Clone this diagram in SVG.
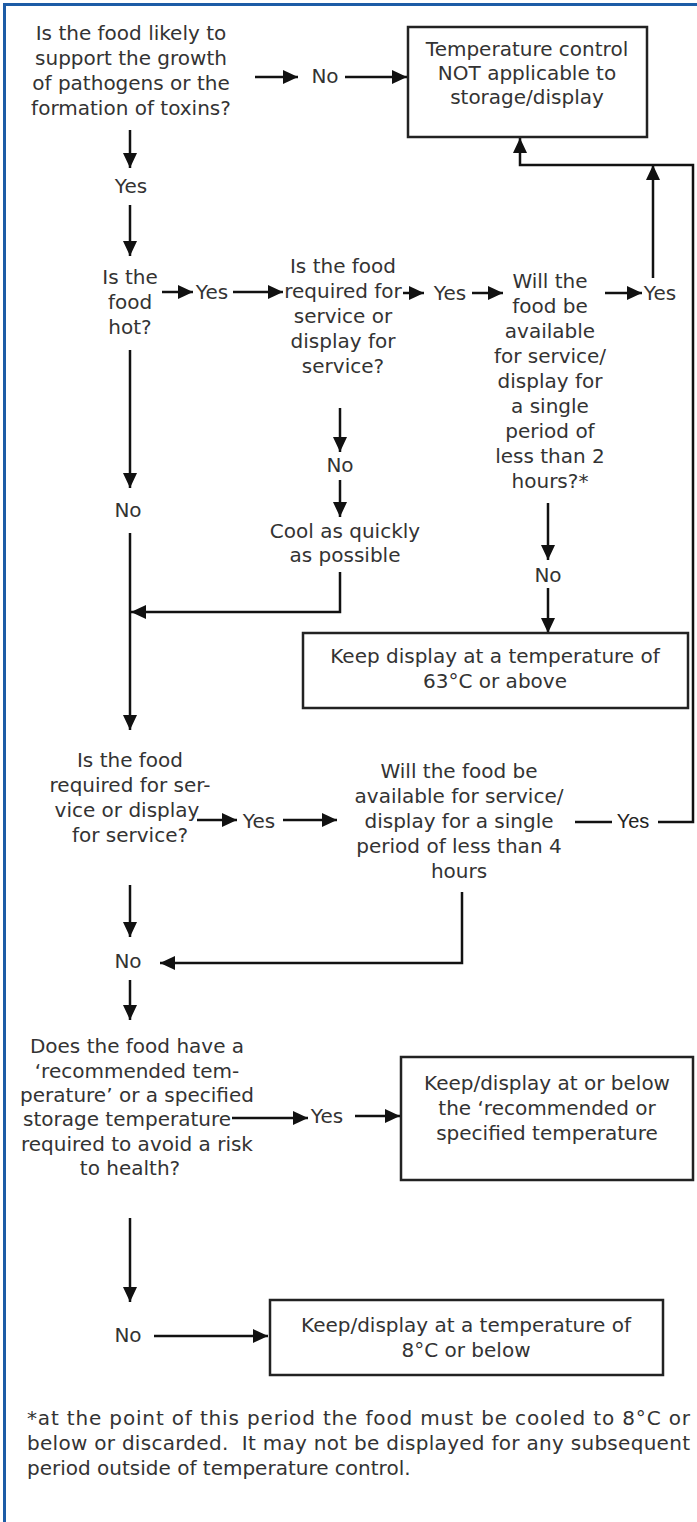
<svg xmlns="http://www.w3.org/2000/svg" width="697" height="1522" viewBox="0 0 697 1522">
<style>
.t{font-family:"DejaVu Sans",sans-serif;font-size:20px;fill:#333;text-anchor:middle}
.fn{font-family:"DejaVu Sans",sans-serif;font-size:20px;fill:#333}
.ar{font-family:"Liberation Sans",Arial,sans-serif;font-size:20px;fill:#222;text-anchor:middle}
.box{fill:none;stroke:#222;stroke-width:2.5}
.c{fill:none;stroke:#111;stroke-width:2.5}
.a{marker-end:url(#ah)}
</style>
<defs>
<marker id="ah" markerWidth="16" markerHeight="14" refX="15" refY="7" orient="auto" markerUnits="userSpaceOnUse">
<path d="M0,0 L15,7 L0,14 z" fill="#111"/>
</marker>
</defs>
<rect width="697" height="1522" fill="#fff"/>
<path d="M4.5 1522 V4.5 H697" fill="none" stroke="#1d5ca6" stroke-width="3"/>

<g id="connectors">
<path class="c a" d="M255 77 H298"/>
<path class="c a" d="M345 77 H407"/>
<path class="c a" d="M130 130 V168"/>
<path class="c a" d="M130 205 V256"/>
<path class="c a" d="M162 292 H193"/>
<path class="c a" d="M233 292 H283"/>
<path class="c a" d="M403 293 H424"/>
<path class="c a" d="M472 293 H503"/>
<path class="c a" d="M605 293 H642"/>
<path class="c a" d="M653 278 V165"/>
<path class="c a" d="M658 822 H693 V165 H520 V138"/>
<path class="c a" d="M130 350 V488"/>
<path class="c a" d="M130 533 V730"/>
<path class="c a" d="M340 572 V612 H131"/>
<path class="c a" d="M340 408 V452"/>
<path class="c a" d="M340 480 V517"/>
<path class="c a" d="M548 503 V560"/>
<path class="c a" d="M548 588 V633"/>
<path class="c a" d="M197 820 H237"/>
<path class="c a" d="M283 820 H337"/>
<path class="c" d="M575 822 H612"/>
<path class="c a" d="M462 892 V963 H160"/>
<path class="c a" d="M130 885 V937"/>
<path class="c a" d="M130 980 V1020"/>
<path class="c a" d="M232 1118 H308"/>
<path class="c a" d="M355 1116 H400"/>
<path class="c a" d="M130 1218 V1302"/>
<path class="c a" d="M154 1336 H268"/>
</g>

<g id="q1"><text class="t" x="131" y="40">Is the food likely to</text><text class="t" x="131" y="65">support the growth</text><text class="t" x="131" y="90">of pathogens or the</text><text class="t" x="131" y="115">formation of toxins?</text></g>
<g id="l-no1"><text class="t" x="325" y="83">No</text></g>
<g id="l-yes1"><text class="t" x="131" y="193">Yes</text></g>
<g id="box-notapplicable"><rect class="box" x="408" y="27" width="239" height="110"/><text class="t" x="527" y="56">Temperature control</text><text class="t" x="527" y="80">NOT applicable to</text><text class="t" x="527" y="104">storage/display</text></g>
<g id="q2"><text class="t" x="130" y="284">Is the</text><text class="t" x="130" y="309">food</text><text class="t" x="130" y="334">hot?</text></g>
<g id="l-yes2"><text class="t" x="212" y="299">Yes</text></g>
<g id="q3"><text class="t" x="343" y="273">Is the food</text><text class="t" x="343" y="298">required for</text><text class="t" x="343" y="323">service or</text><text class="t" x="343" y="348">display for</text><text class="t" x="343" y="373">service?</text></g>
<g id="l-yes3"><text class="t" x="450" y="300">Yes</text></g>
<g id="q4"><text class="t" x="550" y="288">Will the</text><text class="t" x="550" y="313">food be</text><text class="t" x="550" y="338">available</text><text class="t" x="550" y="363">for service/</text><text class="t" x="550" y="388">display for</text><text class="t" x="550" y="413">a single</text><text class="t" x="550" y="438">period of</text><text class="t" x="550" y="463">less than 2</text><text class="t" x="550" y="488">hours?*</text></g>
<g id="l-yes4"><text class="t" x="660" y="300">Yes</text></g>
<g id="l-no2"><text class="t" x="128" y="517">No</text></g>
<g id="l-no3"><text class="t" x="340" y="472">No</text></g>
<g id="cool"><text class="t" x="345" y="538">Cool as quickly</text><text class="t" x="345" y="562">as possible</text></g>
<g id="l-no4"><text class="t" x="548" y="582">No</text></g>
<g id="box-63"><rect class="box" x="303" y="633" width="385" height="75"/><text class="t" x="495" y="663">Keep display at a temperature of</text><text class="t" x="495" y="688">63°C or above</text></g>
<g id="q5"><text class="t" x="130" y="767">Is the food</text><text class="t" x="130" y="792">required for ser-</text><text class="t" x="127" y="817">vice or display</text><text class="t" x="130" y="842">for service?</text></g>
<g id="l-yes5"><text class="t" x="259" y="828">Yes</text></g>
<g id="q6"><text class="t" x="459" y="778">Will the food be</text><text class="t" x="459" y="803">available for service/</text><text class="t" x="459" y="828">display for a single</text><text class="t" x="459" y="853">period of less than 4</text><text class="t" x="459" y="878">hours</text></g>
<g id="l-yes6"><text class="ar" x="633" y="828">Yes</text></g>
<g id="l-no5"><text class="t" x="128" y="968">No</text></g>
<g id="q7"><text class="t" x="137" y="1053">Does the food have a</text><text class="t" x="137" y="1078">‘recommended tem-</text><text class="t" x="137" y="1102">perature’ or a specified</text><text class="t" x="127" y="1126">storage temperature</text><text class="t" x="137" y="1151">required to avoid a risk</text><text class="t" x="130" y="1175">to health?</text></g>
<g id="l-yes7"><text class="t" x="327" y="1123">Yes</text></g>
<g id="box-recommended"><rect class="box" x="401" y="1057" width="292" height="123"/><text class="t" x="547" y="1090">Keep/display at or below</text><text class="t" x="547" y="1115">the ‘recommended or</text><text class="t" x="547" y="1140">specified temperature</text></g>
<g id="l-no6"><text class="t" x="128" y="1342">No</text></g>
<g id="box-8"><rect class="box" x="270" y="1300" width="393" height="75"/><text class="t" x="466" y="1332">Keep/display at a temperature of</text><text class="t" x="466" y="1357">8°C or below</text></g>
<g id="footnote"><text class="fn" x="27" y="1425" textLength="663" lengthAdjust="spacing">*at the point of this period the food must be cooled to 8°C or</text><text class="fn" x="27" y="1450" textLength="663" lengthAdjust="spacing">below or discarded.&#160; It may not be displayed for any subsequent</text><text class="fn" x="27" y="1475">period outside of temperature control.</text></g>
</svg>
